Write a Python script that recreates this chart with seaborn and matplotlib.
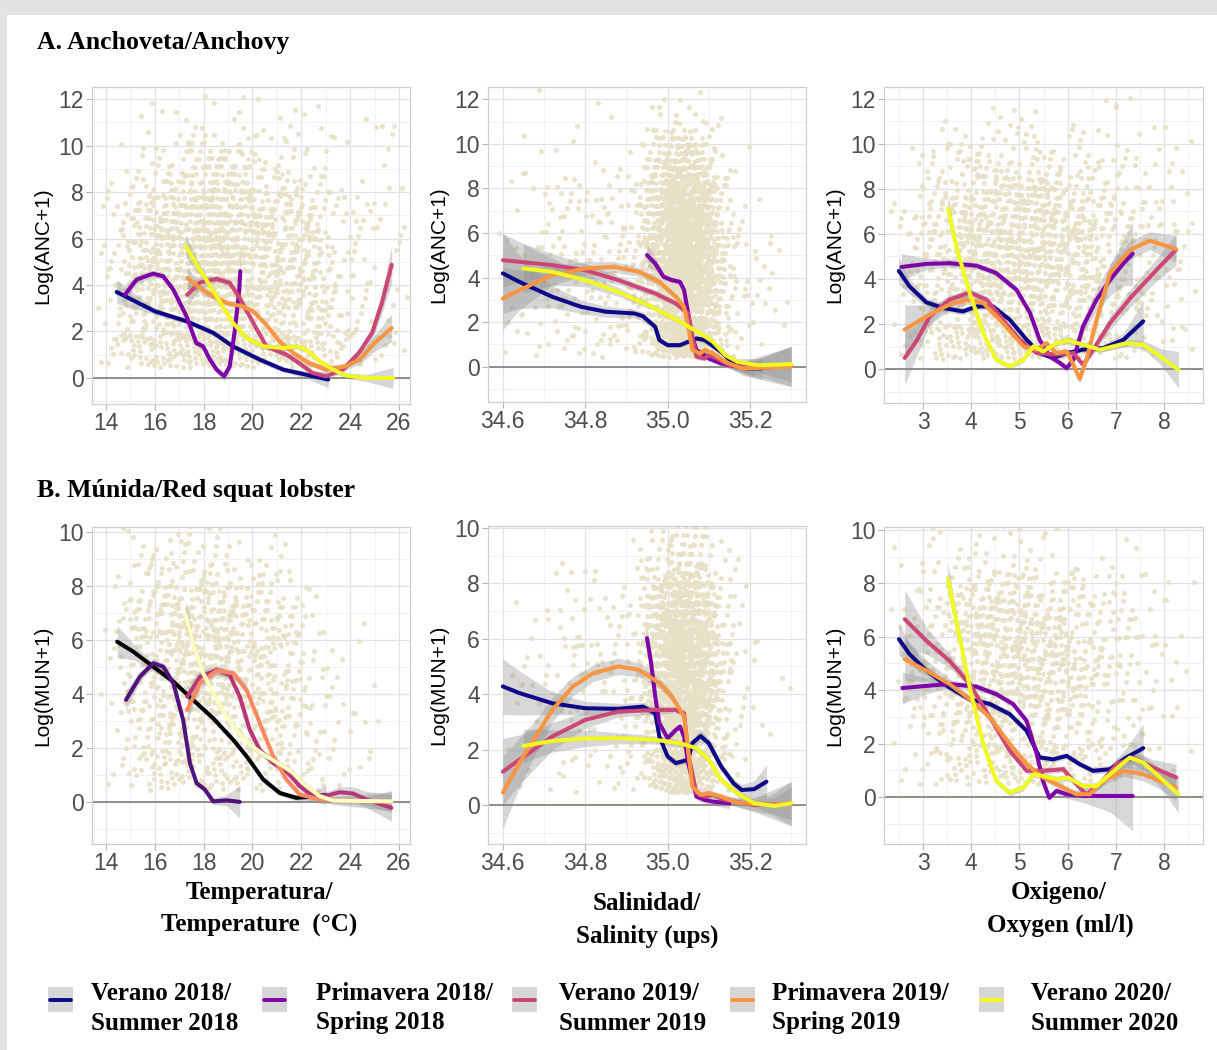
import numpy as np
import pandas as pd
import seaborn as sns
import matplotlib.pyplot as plt
from matplotlib.patches import Rectangle
from matplotlib.lines import Line2D

sns.set_theme(style="white")
plt.rcParams['font.family'] = ['Liberation Sans', 'DejaVu Sans']

# ---------------- DATA ----------------
SERIES = ["Verano 2018", "Primavera 2018", "Verano 2019", "Primavera 2019", "Verano 2020"]
LEGEND_LABELS = ["Verano 2018/\nSummer 2018", "Primavera 2018/\nSpring 2018",
                 "Verano 2019/\nSummer 2019", "Primavera 2019/\nSpring 2019",
                 "Verano 2020/\nSummer 2020"]
PLASMA = ["#0D0887", "#7E03A8", "#CC4778", "#F89540", "#F0F921"]
MAGMA = ["#000004", "#51127C", "#B63679", "#FB8861", "#FCFDBF"]

# smoothed curves: (x, fitted y, band half-width)
anc_temp = {
    "Verano 2018": ([14.44, 16.0, 17.3, 18.4, 19.2, 20.3, 21.26, 22.2, 23.1],
                    [3.70, 2.87, 2.44, 1.94, 1.36, 0.79, 0.36, 0.14, -0.07],
                    [0.5, 0.15, 0.12, 0.12, 0.12, 0.12, 0.12, 0.15, 0.35]),
    "Primavera 2018": ([14.78, 15.25, 15.94, 16.35, 16.76, 17.3, 17.7, 17.98, 18.26, 18.53, 18.84, 19.07, 19.28, 19.46, 19.5],
                       [3.58, 4.23, 4.49, 4.37, 3.8, 2.65, 1.5, 1.36, 0.79, 0.36, 0.07, 0.5, 2.08, 3.8, 4.59],
                       [0.35, 0.2, 0.15, 0.15, 0.15, 0.15, 0.15, 0.15, 0.15, 0.15, 0.2, 0.3, 0.5, 0.8, 1.0]),
    "Verano 2019": ([17.33, 17.85, 18.53, 19.07, 19.48, 20.03, 20.57, 21.4, 21.9, 22.45, 23.0, 23.7, 24.36, 24.9, 25.3, 25.7],
                    [3.58, 4.11, 4.26, 4.09, 3.44, 2.37, 1.36, 1.0, 0.65, 0.22, 0.07, 0.36, 1.08, 1.94, 3.23, 4.87],
                    [0.5, 0.25, 0.15, 0.15, 0.15, 0.15, 0.12, 0.12, 0.12, 0.12, 0.12, 0.15, 0.2, 0.3, 0.45, 0.8]),
    "Primavera 2019": ([17.33, 17.85, 18.4, 18.93, 19.6, 20.03, 20.57, 21.1, 21.67, 22.3, 23.0, 23.8, 24.4, 25.0, 25.7],
                       [4.30, 3.87, 3.51, 3.23, 3.08, 2.87, 2.29, 1.58, 1.08, 0.65, 0.36, 0.5, 0.79, 1.5, 2.15],
                       [0.45, 0.2, 0.15, 0.12, 0.12, 0.12, 0.12, 0.12, 0.12, 0.12, 0.12, 0.15, 0.2, 0.35, 0.6]),
    "Verano 2020": ([17.27, 17.85, 18.53, 19.2, 19.76, 20.44, 21.26, 21.8, 22.2, 22.75, 23.3, 23.85, 24.66, 25.76],
                    [5.66, 4.66, 3.51, 2.37, 1.72, 1.36, 1.29, 1.36, 1.22, 0.72, 0.36, 0.1, 0.0, 0.0],
                    [0.5, 0.25, 0.15, 0.12, 0.12, 0.12, 0.12, 0.12, 0.12, 0.12, 0.12, 0.12, 0.15, 0.45]),
}
anc_sal = {
    "Verano 2018": ([34.60, 34.64, 34.72, 34.79, 34.85, 34.92, 34.94, 34.97, 34.98, 35.00, 35.03, 35.05, 35.07, 35.09, 35.13, 35.16, 35.19, 35.23],
                    [4.19, 3.81, 3.14, 2.69, 2.47, 2.39, 2.27, 1.79, 1.20, 0.97, 0.97, 1.12, 1.27, 1.20, 0.67, 0.15, -0.07, -0.07],
                    [1.8, 1.2, 0.5, 0.3, 0.25, 0.2, 0.2, 0.15, 0.12, 0.1, 0.1, 0.1, 0.12, 0.15, 0.15, 0.2, 0.3, 0.5]),
    "Primavera 2018": ([34.95, 34.97, 34.99, 35.01, 35.03, 35.04, 35.05, 35.06, 35.07, 35.09, 35.10, 35.13, 35.17, 35.21],
                       [5.01, 4.63, 4.04, 3.89, 3.81, 3.44, 2.39, 1.35, 0.75, 0.52, 0.37, 0.15, 0.0, -0.07],
                       [0.5, 0.3, 0.15, 0.12, 0.12, 0.12, 0.12, 0.12, 0.12, 0.12, 0.12, 0.12, 0.2, 0.35]),
    "Verano 2019": ([34.60, 34.64, 34.72, 34.80, 34.88, 34.97, 35.02, 35.05, 35.06, 35.07, 35.09, 35.10, 35.12, 35.15, 35.21, 35.30],
                    [4.78, 4.71, 4.56, 4.33, 3.89, 3.29, 2.84, 2.39, 1.35, 0.45, 0.37, 0.52, 0.37, 0.07, -0.07, 0.03],
                    [1.2, 0.9, 0.5, 0.3, 0.2, 0.15, 0.12, 0.12, 0.12, 0.12, 0.12, 0.12, 0.12, 0.15, 0.3, 0.9]),
    "Primavera 2019": ([34.60, 34.64, 34.72, 34.80, 34.87, 34.93, 34.98, 35.02, 35.04, 35.05, 35.06, 35.08, 35.09, 35.11, 35.14, 35.18, 35.30],
                       [3.06, 3.44, 4.11, 4.41, 4.48, 4.26, 3.81, 3.14, 2.69, 1.79, 0.75, 0.60, 0.75, 0.60, 0.22, -0.07, 0.0],
                       [1.4, 0.9, 0.45, 0.3, 0.25, 0.2, 0.15, 0.12, 0.12, 0.12, 0.12, 0.12, 0.12, 0.12, 0.15, 0.3, 0.9]),
    "Verano 2020": ([34.65, 34.72, 34.80, 34.88, 34.97, 35.03, 35.08, 35.11, 35.14, 35.17, 35.22, 35.30],
                    [4.41, 4.26, 3.89, 3.36, 2.62, 2.02, 1.49, 1.12, 0.52, 0.22, 0.07, 0.12],
                    [1.1, 0.6, 0.3, 0.2, 0.12, 0.1, 0.1, 0.1, 0.12, 0.15, 0.3, 0.8]),
}
anc_oxy = {
    "Verano 2018": ([2.50, 2.72, 3.07, 3.42, 3.83, 4.11, 4.45, 4.80, 5.15, 5.42, 5.70, 5.98, 6.32, 6.74, 7.16, 7.57],
                    [4.36, 3.67, 2.96, 2.71, 2.56, 2.78, 2.78, 2.19, 1.30, 0.71, 0.49, 0.71, 0.86, 0.93, 1.30, 2.12],
                    [0.6, 0.35, 0.2, 0.15, 0.15, 0.15, 0.15, 0.12, 0.12, 0.12, 0.12, 0.12, 0.12, 0.15, 0.3, 0.9]),
    "Primavera 2018": ([2.55, 3.07, 3.55, 4.11, 4.52, 4.94, 5.22, 5.42, 5.63, 5.84, 5.98, 6.12, 6.32, 6.60, 6.88, 7.16, 7.35],
                       [4.53, 4.67, 4.70, 4.59, 4.26, 3.52, 2.49, 1.30, 0.56, 0.27, 0.04, 0.41, 1.89, 3.08, 3.96, 4.70, 5.12],
                       [0.6, 0.25, 0.15, 0.15, 0.15, 0.15, 0.15, 0.15, 0.15, 0.15, 0.15, 0.2, 0.3, 0.5, 0.7, 1.0, 1.4]),
    "Verano 2019": ([2.62, 2.86, 3.14, 3.55, 3.97, 4.32, 4.66, 5.01, 5.36, 5.77, 6.12, 6.32, 6.53, 6.88, 7.30, 7.85, 8.25],
                    [0.49, 1.23, 2.34, 3.08, 3.40, 3.08, 2.19, 1.30, 0.71, 0.64, 0.71, 0.19, 0.86, 2.04, 3.15, 4.41, 5.30],
                    [1.2, 0.7, 0.35, 0.2, 0.15, 0.15, 0.12, 0.12, 0.12, 0.12, 0.12, 0.15, 0.2, 0.3, 0.4, 0.5, 0.7]),
    "Primavera 2019": ([2.62, 3.07, 3.55, 3.90, 4.25, 4.66, 5.08, 5.36, 5.56, 5.77, 5.98, 6.12, 6.25, 6.39, 6.60, 6.88, 7.30, 7.71, 8.25],
                       [1.75, 2.34, 2.86, 3.08, 2.93, 2.04, 1.01, 0.86, 1.15, 0.71, 0.78, 0.19, -0.44, 0.41, 2.19, 4.26, 5.30, 5.70, 5.33],
                       [1.1, 0.5, 0.25, 0.2, 0.15, 0.12, 0.12, 0.12, 0.12, 0.12, 0.12, 0.15, 0.2, 0.25, 0.3, 0.4, 0.4, 0.4, 0.6]),
    "Verano 2020": ([3.52, 3.69, 3.97, 4.25, 4.52, 4.80, 5.08, 5.29, 5.49, 5.77, 6.01, 6.32, 6.67, 7.22, 7.57, 7.92, 8.30],
                    [7.14, 5.44, 3.37, 1.60, 0.41, 0.12, 0.41, 1.01, 0.78, 1.15, 1.27, 1.08, 0.86, 1.15, 1.08, 0.56, -0.03],
                    [0.6, 0.3, 0.15, 0.12, 0.12, 0.12, 0.12, 0.12, 0.12, 0.12, 0.15, 0.12, 0.12, 0.15, 0.2, 0.35, 0.8]),
}
mun_temp = {
    "Verano 2018": ([14.46, 15.12, 15.94, 16.76, 17.57, 18.39, 19.21, 19.76, 20.44, 21.12, 21.80, 22.5, 23.0],
                    [5.94, 5.57, 5.01, 4.46, 3.78, 3.10, 2.30, 1.69, 0.83, 0.33, 0.15, 0.2, 0.25],
                    [0.6, 0.3, 0.15, 0.12, 0.1, 0.1, 0.1, 0.1, 0.1, 0.1, 0.12, 0.2, 0.35]),
    "Primavera 2018": ([14.82, 15.39, 15.94, 16.35, 16.76, 17.16, 17.44, 17.71, 18.05, 18.39, 18.94, 19.48],
                       [3.78, 4.64, 5.14, 5.01, 4.40, 3.04, 1.44, 0.70, 0.46, 0.02, 0.06, 0.0],
                       [0.35, 0.2, 0.15, 0.15, 0.15, 0.15, 0.12, 0.12, 0.12, 0.12, 0.2, 0.6]),
    "Verano 2019": ([17.33, 17.85, 18.53, 19.07, 19.48, 19.89, 20.30, 20.85, 21.39, 21.94, 22.49, 23.03, 23.58, 24.12, 24.67, 25.69],
                    [3.90, 4.64, 4.89, 4.70, 3.90, 2.67, 1.93, 1.44, 1.13, 0.58, 0.21, 0.23, 0.36, 0.31, 0.09, -0.22],
                    [0.4, 0.25, 0.15, 0.15, 0.15, 0.15, 0.12, 0.12, 0.12, 0.12, 0.12, 0.15, 0.2, 0.25, 0.3, 0.5]),
    "Primavera 2019": ([17.33, 17.85, 18.53, 19.21, 19.76, 20.30, 20.85, 21.39, 21.94, 22.76, 24.67, 25.69],
                       [3.41, 4.40, 4.86, 4.77, 4.15, 2.92, 1.69, 0.83, 0.27, 0.09, 0.02, 0.02],
                       [0.4, 0.25, 0.15, 0.15, 0.15, 0.12, 0.12, 0.12, 0.12, 0.12, 0.15, 0.4]),
    "Verano 2020": ([17.27, 17.57, 17.98, 18.53, 19.21, 19.89, 20.57, 21.26, 21.67, 22.22, 22.76, 23.3, 25.69],
                    [6.92, 5.87, 4.77, 3.78, 2.80, 2.12, 1.69, 1.32, 1.07, 0.58, 0.21, 0.05, 0.02],
                    [0.5, 0.3, 0.15, 0.12, 0.12, 0.12, 0.12, 0.12, 0.12, 0.12, 0.12, 0.15, 0.35]),
}
mun_sal = {
    "Verano 2018": ([34.60, 34.64, 34.72, 34.80, 34.88, 34.94, 34.97, 34.98, 35.00, 35.02, 35.05, 35.06, 35.08, 35.10, 35.13, 35.16, 35.18, 35.21, 35.24],
                    [4.28, 4.04, 3.67, 3.49, 3.47, 3.55, 3.31, 2.47, 1.75, 1.51, 1.63, 2.23, 2.49, 2.23, 1.39, 0.78, 0.54, 0.57, 0.84],
                    [1.0, 0.8, 0.4, 0.25, 0.2, 0.15, 0.15, 0.12, 0.12, 0.12, 0.12, 0.15, 0.2, 0.2, 0.15, 0.15, 0.2, 0.3, 0.6]),
    "Primavera 2018": ([34.95, 34.96, 34.97, 34.98, 35.00, 35.02, 35.03, 35.04, 35.05, 35.07, 35.09, 35.11, 35.15],
                       [6.02, 5.12, 3.92, 2.95, 2.41, 2.71, 2.83, 2.47, 1.51, 0.30, 0.18, 0.12, 0.06],
                       [0.4, 0.3, 0.2, 0.15, 0.12, 0.12, 0.12, 0.12, 0.12, 0.12, 0.12, 0.12, 0.2]),
    "Verano 2019": ([34.60, 34.64, 34.72, 34.80, 34.88, 34.97, 35.02, 35.04, 35.05, 35.07, 35.09, 35.11, 35.14, 35.21, 35.30],
                    [1.20, 1.63, 2.47, 3.07, 3.37, 3.43, 3.43, 3.31, 1.87, 0.42, 0.30, 0.36, 0.18, 0.0, 0.04],
                    [1.2, 0.9, 0.5, 0.3, 0.2, 0.15, 0.12, 0.12, 0.12, 0.12, 0.12, 0.12, 0.12, 0.25, 0.8]),
    "Primavera 2019": ([34.60, 34.64, 34.68, 34.72, 34.77, 34.82, 34.88, 34.93, 34.98, 35.01, 35.04, 35.05, 35.06, 35.08, 35.10, 35.13, 35.17, 35.25, 35.30],
                       [0.45, 1.51, 2.47, 3.43, 4.28, 4.76, 5.00, 4.88, 4.40, 3.92, 3.19, 1.99, 0.66, 0.36, 0.42, 0.30, 0.08, 0.0, 0.06],
                       [1.3, 0.9, 0.6, 0.45, 0.35, 0.3, 0.3, 0.25, 0.2, 0.15, 0.12, 0.12, 0.12, 0.12, 0.12, 0.12, 0.15, 0.35, 0.8]),
    "Verano 2020": ([34.65, 34.72, 34.80, 34.88, 34.97, 35.03, 35.07, 35.10, 35.13, 35.17, 35.21, 35.26, 35.30],
                    [2.13, 2.31, 2.40, 2.41, 2.35, 2.23, 2.05, 1.63, 0.90, 0.42, 0.06, -0.04, 0.06],
                    [0.6, 0.4, 0.3, 0.2, 0.15, 0.12, 0.12, 0.12, 0.12, 0.12, 0.15, 0.3, 0.6]),
}
mun_oxy = {
    "Verano 2018": ([2.50, 2.72, 3.07, 3.55, 3.97, 4.39, 4.80, 5.15, 5.42, 5.70, 5.98, 6.25, 6.53, 6.88, 7.22, 7.57],
                    [5.91, 5.35, 4.73, 4.10, 3.66, 3.48, 3.10, 2.48, 1.48, 1.41, 1.54, 1.23, 0.98, 1.04, 1.48, 1.83],
                    [0.6, 0.4, 0.2, 0.15, 0.12, 0.12, 0.12, 0.12, 0.12, 0.12, 0.12, 0.12, 0.12, 0.15, 0.35, 0.9]),
    "Primavera 2018": ([2.57, 3.07, 3.55, 4.11, 4.52, 4.87, 5.15, 5.36, 5.49, 5.62, 5.77, 5.98, 6.32, 6.88, 7.35],
                       [4.08, 4.16, 4.23, 4.13, 3.85, 3.48, 2.85, 1.60, 0.60, -0.03, 0.23, 0.10, 0.04, 0.04, 0.04],
                       [0.6, 0.3, 0.15, 0.12, 0.12, 0.12, 0.12, 0.12, 0.12, 0.12, 0.12, 0.15, 0.25, 0.6, 1.3]),
    "Verano 2019": ([2.62, 3.07, 3.55, 3.97, 4.39, 4.80, 5.15, 5.49, 5.91, 6.18, 6.39, 6.67, 7.02, 7.36, 7.78, 8.25],
                    [6.66, 5.85, 5.10, 4.23, 2.98, 1.73, 0.98, 0.98, 1.04, 0.48, 0.10, 0.48, 1.23, 1.48, 1.10, 0.73],
                    [1.1, 0.5, 0.25, 0.15, 0.12, 0.12, 0.12, 0.12, 0.12, 0.12, 0.12, 0.15, 0.2, 0.25, 0.3, 0.5]),
    "Primavera 2019": ([2.62, 3.07, 3.55, 3.97, 4.39, 4.80, 5.15, 5.49, 5.91, 6.18, 6.46, 6.74, 7.16, 7.57, 7.92, 8.25],
                       [5.16, 4.73, 4.23, 3.66, 2.98, 1.98, 1.23, 0.73, 0.35, 0.10, 0.10, 0.60, 0.98, 0.85, 0.60, 0.35],
                       [0.8, 0.4, 0.2, 0.12, 0.12, 0.12, 0.12, 0.12, 0.12, 0.12, 0.12, 0.15, 0.2, 0.25, 0.3, 0.5]),
    "Verano 2020": ([3.52, 3.69, 3.97, 4.25, 4.52, 4.80, 5.08, 5.29, 5.49, 5.77, 6.01, 6.32, 6.60, 6.88, 7.29, 7.57, 7.92, 8.30],
                    [8.16, 6.60, 4.10, 1.98, 0.60, 0.16, 0.35, 0.85, 0.79, 0.66, 0.73, 0.41, 0.41, 0.85, 1.48, 1.29, 0.73, 0.10],
                    [0.6, 0.3, 0.15, 0.12, 0.12, 0.12, 0.12, 0.12, 0.12, 0.12, 0.12, 0.12, 0.12, 0.15, 0.2, 0.25, 0.35, 0.7]),
}

# Background point clouds: estimated number of points per cell (rows = x bins, cols = y bins)
temp_bins = [14, 15, 16, 17, 18, 19, 20, 21, 22, 23, 24, 25, 26]
sal_bins = [34.60, 34.65, 34.70, 34.75, 34.80, 34.85, 34.90, 34.95, 35.00, 35.05, 35.10, 35.15, 35.20, 35.25, 35.30]
oxy_bins = [2.5, 3.0, 3.5, 4.0, 4.5, 5.0, 5.5, 6.0, 6.5, 7.0, 7.5, 8.0, 8.5]
anc_ybins = [0, 2, 4, 6, 8, 10, 12]
mun_ybins = [0, 2, 4, 6, 8, 10]

anc_temp_counts = [[10, 15, 15, 10, 2, 0], [25, 40, 40, 30, 10, 1], [30, 45, 50, 45, 15, 2],
                   [30, 50, 60, 60, 30, 4], [40, 60, 70, 70, 35, 6], [35, 55, 60, 55, 25, 4],
                   [25, 40, 45, 40, 15, 3], [25, 40, 40, 35, 15, 3], [25, 35, 35, 25, 10, 2],
                   [12, 15, 12, 8, 3, 1], [8, 10, 8, 6, 3, 2], [6, 8, 8, 6, 5, 2]]
anc_sal_counts = [[2, 3, 3, 2, 1, 0], [3, 4, 4, 3, 2, 1], [5, 8, 8, 6, 2, 1], [5, 10, 10, 8, 3, 1],
                  [5, 10, 12, 8, 3, 1], [6, 10, 12, 8, 3, 1], [8, 12, 15, 10, 4, 1],
                  [40, 60, 80, 70, 40, 5], [120, 170, 200, 180, 90, 8], [80, 130, 150, 130, 60, 5],
                  [20, 30, 35, 25, 8, 1], [5, 8, 8, 4, 1, 0], [2, 4, 4, 2, 0, 0], [1, 2, 2, 0, 0, 0]]
anc_oxy_counts = [[5, 8, 10, 8, 2, 0], [15, 20, 25, 20, 8, 1], [25, 35, 40, 35, 15, 3],
                  [30, 45, 50, 45, 20, 3], [30, 45, 55, 50, 20, 3], [30, 45, 55, 50, 20, 3],
                  [25, 40, 50, 45, 15, 2], [20, 35, 40, 35, 12, 2], [12, 20, 25, 20, 8, 2],
                  [8, 15, 18, 15, 8, 2], [5, 10, 12, 10, 5, 2], [3, 6, 8, 6, 4, 1]]
mun_temp_counts = [[3, 5, 6, 6, 3], [15, 25, 30, 30, 10], [20, 35, 45, 40, 10], [20, 40, 55, 50, 15],
                   [20, 40, 55, 50, 15], [15, 30, 40, 35, 8], [15, 30, 35, 30, 6], [12, 25, 25, 20, 4],
                   [8, 12, 10, 5, 1], [4, 6, 4, 1, 0], [2, 4, 3, 0, 0], [0, 1, 0, 0, 0]]
mun_sal_counts = [[1, 2, 3, 1, 0], [2, 3, 4, 2, 0], [3, 5, 6, 4, 0], [4, 8, 10, 6, 1], [4, 8, 10, 6, 1],
                  [4, 8, 10, 6, 1], [8, 12, 15, 10, 2], [40, 70, 80, 70, 20], [100, 170, 200, 160, 40],
                  [70, 130, 150, 120, 30], [15, 30, 35, 25, 5], [3, 6, 6, 3, 0], [1, 2, 2, 1, 0], [0, 1, 1, 0, 0]]
mun_oxy_counts = [[4, 8, 10, 8, 2], [8, 15, 20, 15, 5], [15, 30, 35, 30, 10], [20, 40, 50, 45, 10],
                  [20, 40, 55, 45, 10], [20, 40, 50, 40, 8], [15, 35, 45, 35, 5], [12, 25, 35, 25, 3],
                  [8, 15, 20, 15, 3], [5, 10, 15, 12, 3], [3, 6, 8, 6, 2], [1, 3, 4, 3, 0]]

# ---------------- FIGURE ----------------
W, H = 1217, 1050
fig = plt.figure(figsize=(W / 100, H / 100), dpi=100)
fig.patch.set_facecolor("white")
fig.add_artist(Rectangle((0, 1 - 15 / H), 1, 15 / H, transform=fig.transFigure,
                         facecolor="#e1e2e4", edgecolor="none", zorder=0))
fig.add_artist(Rectangle((0, 0), 7 / W, 1, transform=fig.transFigure,
                         facecolor="#e1e2e4", edgecolor="none", zorder=0))

POINT_COLOR = "#E8E0C6"
BAND_COLOR = "#8f8f8f"
G4 = 1.1673039782614187
ALPHAS = [1 / G4, 1 / G4 ** 2, 1 / G4 ** 3, 1 / G4 ** 4]


def add_ax(l, r, t, b):
    return fig.add_axes([l / W, 1 - b / H, (r - l) / W, (b - t) / H])


def cloud(xbins, ybins, counts):
    """Spread each cell's estimated count over the cell (tent-shaped, so cells blend)."""
    xs, ys = [], []
    k = 0
    for i in range(len(xbins) - 1):
        w = xbins[i + 1] - xbins[i]
        xc = 0.5 * (xbins[i] + xbins[i + 1])
        for j in range(len(ybins) - 1):
            h = ybins[j + 1] - ybins[j]
            yc = 0.5 * (ybins[j] + ybins[j + 1])
            for _ in range(counts[i][j]):
                k += 1
                u1, u2, v1, v2 = [(0.5 + k * a) % 1.0 for a in ALPHAS]
                xs.append(xc + (u1 + u2 - 1.0) * w)
                if j == 0:
                    ys.append(ybins[0] + 0.45 + v1 * (h - 0.45))
                else:
                    ys.append(yc + (v1 + v2 - 1.0) * h)
    return pd.DataFrame({"x": xs, "y": ys})


def draw_panel(ax, curves, colors, xbins, ybins, counts, xlim, ylim,
               xticks, xminor, yticks, yminor, xfmt, ylabel):
    ax.set_facecolor("white")
    ax.set_axisbelow(True)
    pts = cloud(xbins, ybins, counts)
    sns.scatterplot(data=pts, x="x", y="y", color=POINT_COLOR, s=13, alpha=0.9,
                    linewidth=0, ax=ax, zorder=1, legend=False)
    ax.axhline(0, color="#8f8f86", lw=1.4, zorder=2)
    for name, c in zip(SERIES, colors):
        xs, ys, se = (np.asarray(a, float) for a in curves[name])
        ax.fill_between(xs, ys - se, ys + se, color=BAND_COLOR, alpha=0.35, lw=0, zorder=3)
        sns.lineplot(x=xs, y=ys, color=c, lw=2.9, ax=ax, sort=False, estimator=None,
                     zorder=4, legend=False)
    ax.set_xlim(*xlim)
    ax.set_ylim(*ylim)
    ax.set_xticks(xticks)
    ax.set_xticks(xminor, minor=True)
    ax.set_yticks(yticks)
    ax.set_yticks(yminor, minor=True)
    ax.set_xticklabels([xfmt.format(t) for t in xticks])
    ax.set_yticklabels([str(t) for t in yticks])
    ax.grid(which="major", color="#e2e2e2", lw=0.9)
    ax.grid(which="minor", color="#efefef", lw=0.6)
    ax.tick_params(which="major", length=4, width=0.8, color="#b5b5b5",
                   labelsize=16.5, labelcolor="#4d4d4d", pad=2)
    ax.tick_params(which="minor", length=0)
    ax.tick_params(axis="x", bottom=True)
    ax.tick_params(axis="y", left=True)
    for s in ax.spines.values():
        s.set_color("#cfcfcf")
        s.set_linewidth(0.9)
    ax.set_xlabel("")
    ax.set_ylabel(ylabel, fontsize=15, color="black")
    ax.yaxis.set_label_coords(-0.125, 0.5)


temp_ticks, temp_minor = [14, 16, 18, 20, 22, 24, 26], [13.5, 15, 17, 19, 21, 23, 25]
sal_ticks, sal_minor = [34.6, 34.8, 35.0, 35.2], [34.7, 34.9, 35.1, 35.3]
oxy_ticks, oxy_minor = [3, 4, 5, 6, 7, 8], [2.5, 3.5, 4.5, 5.5, 6.5, 7.5, 8.5]
anc_ticks, anc_minor = [0, 2, 4, 6, 8, 10, 12], [-1, 1, 3, 5, 7, 9, 11]
mun_ticks, mun_minor = [0, 2, 4, 6, 8, 10], [-1, 1, 3, 5, 7, 9]

axA1 = add_ax(92, 410, 87, 404)
draw_panel(axA1, anc_temp, PLASMA, temp_bins, anc_ybins, anc_temp_counts, (13.43, 26.45), (-1.12, 12.52),
           temp_ticks, temp_minor, anc_ticks, anc_minor, "{:g}", "Log(ANC+1)")
axA2 = add_ax(488, 806, 87, 402)
draw_panel(axA2, anc_sal, PLASMA, sal_bins, anc_ybins, anc_sal_counts, (34.564, 35.336), (-1.58, 12.55),
           sal_ticks, sal_minor, anc_ticks, anc_minor, "{:.1f}", "Log(ANC+1)")
axA3 = add_ax(884, 1203, 87, 403)
draw_panel(axA3, anc_oxy, PLASMA, oxy_bins, anc_ybins, anc_oxy_counts, (2.19, 8.81), (-1.51, 12.53),
           oxy_ticks, oxy_minor, anc_ticks, anc_minor, "{:g}", "Log(ANC+1)")
axB1 = add_ax(92, 410, 527, 844)
draw_panel(axB1, mun_temp, MAGMA, temp_bins, mun_ybins, mun_temp_counts, (13.43, 26.45), (-1.56, 10.19),
           temp_ticks, temp_minor, mun_ticks, mun_minor, "{:g}", "Log(MUN+1)")
axB2 = add_ax(488, 806, 526, 844)
draw_panel(axB2, mun_sal, PLASMA, sal_bins, mun_ybins, mun_sal_counts, (34.564, 35.336), (-1.41, 10.07),
           sal_ticks, sal_minor, mun_ticks, mun_minor, "{:.1f}", "Log(MUN+1)")
axB3 = add_ax(884, 1203, 527, 844)
draw_panel(axB3, mun_oxy, PLASMA, oxy_bins, mun_ybins, mun_oxy_counts, (2.19, 8.81), (-1.76, 10.11),
           oxy_ticks, oxy_minor, mun_ticks, mun_minor, "{:g}", "Log(MUN+1)")

SERIF = ["Liberation Serif", "DejaVu Serif"]


def ftext(x, y, s, **kw):
    fig.text(x / W, 1 - y / H, s, family=SERIF, fontweight="bold", color="black", **kw)


ftext(37, 43, "A. Anchoveta/Anchovy", fontsize=18.5, ha="left", va="center")
ftext(37, 490, "B. Múnida/Red squat lobster", fontsize=18.5, ha="left", va="center")

ftext(259, 893, "Temperatura/", fontsize=18, ha="center", va="center")
ftext(259, 925, "Temperature  (°C)", fontsize=18, ha="center", va="center")
ftext(647, 903, "Salinidad/", fontsize=18, ha="center", va="center")
ftext(647, 936, "Salinity (ups)", fontsize=18, ha="center", va="center")
ftext(1059, 893, "Oxigeno/", fontsize=18, ha="center", va="center")
ftext(1060, 925, "Oxygen (ml/l)", fontsize=18, ha="center", va="center")

# legend
key_x = [48, 262, 512, 730, 979]
text_x = [91, 316, 559, 772, 1031]
for kx, tx, lab, c in zip(key_x, text_x, LEGEND_LABELS, PLASMA):
    fig.add_artist(Rectangle((kx / W, 1 - 1012 / H), 25 / W, 25 / H, transform=fig.transFigure,
                             facecolor="#d6d6d6", edgecolor="none"))
    fig.add_artist(Line2D([(kx + 2) / W, (kx + 23) / W], [1 - 1000 / H, 1 - 1000 / H],
                          transform=fig.transFigure, color=c, lw=2.8))
    l1, l2 = lab.split("\n")
    ftext(tx, 993, l1, fontsize=18, ha="left", va="center")
    ftext(tx, 1023, l2, fontsize=18, ha="left", va="center")

fig.savefig("out.png", dpi=100, facecolor="white")
